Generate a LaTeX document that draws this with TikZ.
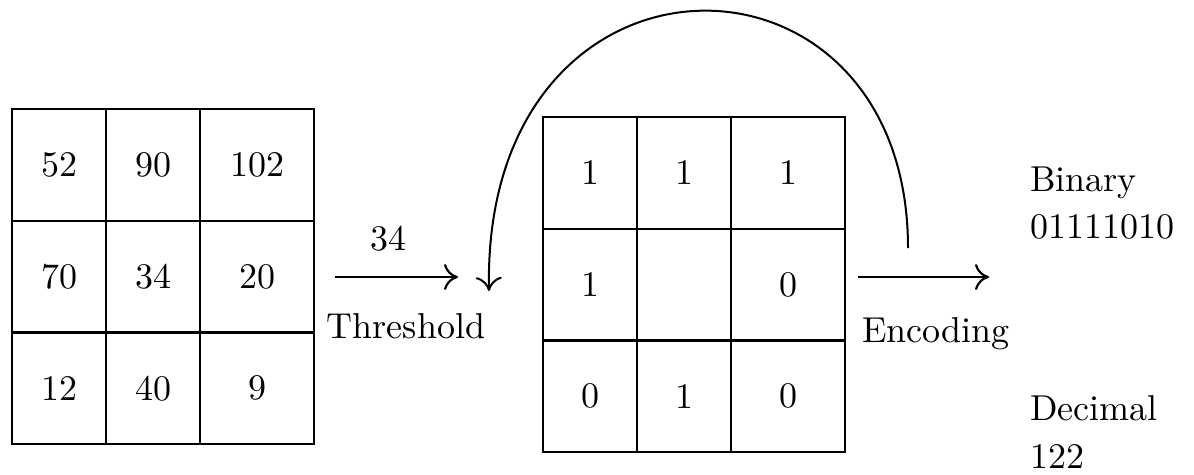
\documentclass[tikz,border=0pt]{standalone}
\usepackage{fontspec}
\setmainfont{lmroman10-regular.otf}
\usetikzlibrary{arrows.meta}
\newcommand{\bigtxt}{\fontsize{36}{40}\selectfont}
\tikzset{
  cellbox/.style={draw, line width=2.2pt, inner sep=0pt, outer sep=0pt,
    anchor=north west, minimum height=111.7pt, font=\bigtxt},
  narrow/.style={cellbox, minimum width=94pt},
  wide/.style={cellbox, minimum width=114pt},
  lbl/.style={inner sep=0pt, anchor=base, font=\bigtxt},
  lblw/.style={inner sep=0pt, anchor=base west, font=\bigtxt},
  arr/.style={line width=2.2pt, -{To[length=14pt,width=26pt]}},
  loop/.style={line width=2pt, -{To[length=14pt,width=26pt]}}
}
\begin{document}
\begin{tikzpicture}[x=1pt,y=-1pt]
\useasboundingbox (0,0) rectangle (1194,474);
% left grid
\node[narrow] (l11) at (12,109) {52};
\node[narrow] (l12) at (106,109) {90};
\node[wide]   (l13) at (200,109) {102};
\node[narrow] (l21) at (12,220.7) {70};
\node[narrow] (l22) at (106,220.7) {34};
\node[wide]   (l23) at (200,220.7) {20};
\node[narrow] (l31) at (12,332.4) {12};
\node[narrow] (l32) at (106,332.4) {40};
\node[wide]   (l33) at (200,332.4) {9};
% middle grid
\node[narrow] (m11) at (543,117) {1};
\node[narrow] (m12) at (637,117) {1};
\node[wide]   (m13) at (731,117) {1};
\node[narrow] (m21) at (543,228.7) {1};
\node[narrow] (m22) at (637,228.7) {};
\node[wide]   (m23) at (731,228.7) {0};
\node[narrow] (m31) at (543,340.4) {0};
\node[narrow] (m32) at (637,340.4) {1};
\node[wide]   (m33) at (731,340.4) {0};
% threshold arrow
\coordinate (t1) at (335,277);
\coordinate (t2) at (458,277);
\draw[arr] (t1) -- (t2);
\node[lbl] (th) at (388,250) {34};
\node[lbl] (thl) at (406,338) {Threshold};
% loop arrow
\coordinate (c1) at (908,248);
\coordinate (c2) at (489,291);
\draw[loop] (c1) .. controls (908,-75) and (482,-75) .. (c2);
% encoding arrow
\coordinate (e1) at (858,277);
\coordinate (e2) at (989,277);
\draw[arr] (e1) -- (e2);
\node[lbl] (enc) at (936,342) {Encoding};
% results
\node[lblw] (bin) at (1030,191) {Binary};
\node[lblw] (binv) at (1030,238) {01111010};
\node[lblw] (dec) at (1030,420) {Decimal};
\node[lblw] (decv) at (1030,468) {122};
\end{tikzpicture}
\end{document}
